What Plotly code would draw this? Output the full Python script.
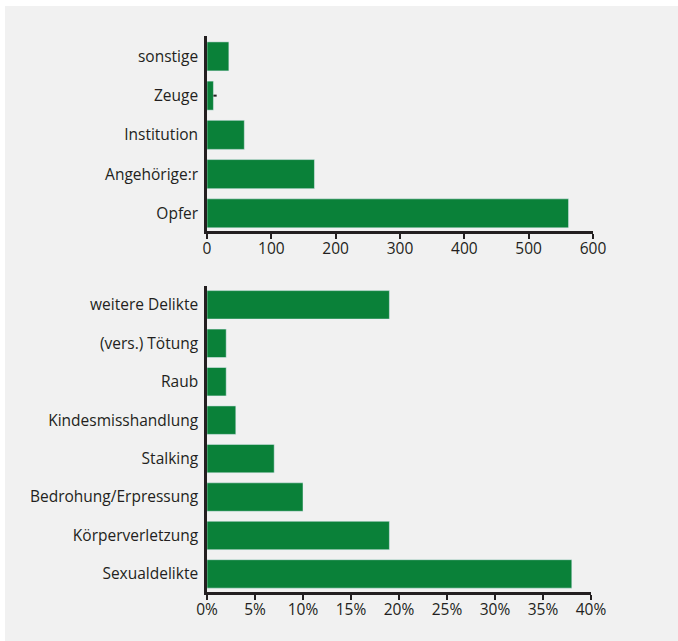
import plotly.graph_objects as go

# Data (top chart: who reported)
roles = ["Opfer", "Angehörige:r", "Institution", "Zeuge", "sonstige"]
role_counts = [562, 167, 58, 10, 34]
role_marks = [0, 0, 0, 5, 0]  # small dash next to "Zeuge"

# Data (bottom chart: offence shares in %)
offences = ["Sexualdelikte", "Körperverletzung", "Bedrohung/Erpressung", "Stalking",
            "Kindesmisshandlung", "Raub", "(vers.) Tötung", "weitere Delikte"]
offence_pct = [38, 19, 10, 7, 3, 2, 2, 19]

top_ticks = [0, 100, 200, 300, 400, 500, 600]
bottom_ticks = [0, 5, 10, 15, 20, 25, 30, 35, 40]
bottom_ticktext = [f"{v}%" for v in bottom_ticks]

W, H = 678, 641
GREEN = "#0a8139"
DARK = "#231f20"
FONT = "Open Sans"

fig = go.Figure()
fig.add_trace(go.Bar(
    y=roles, x=role_counts, orientation="h", marker_color=GREEN,
    error_x=dict(type="data", symmetric=False, array=role_marks,
                 arrayminus=[0] * len(roles), color=DARK, thickness=2, width=0),
    xaxis="x", yaxis="y", showlegend=False, hoverinfo="x+y"))
fig.add_trace(go.Bar(
    y=offences, x=offence_pct, orientation="h", marker_color=GREEN,
    xaxis="x2", yaxis="y2", showlegend=False, hoverinfo="x+y"))

def px_x(p):
    return p / W

def px_y(p):
    return 1 - p / H

axis_common = dict(showline=True, linecolor=DARK, linewidth=2.5, showgrid=False,
                   zeroline=False, automargin=False,
                   tickfont=dict(family=FONT, size=15.5, color=DARK))

fig.update_layout(
    width=W, height=H, autosize=False, margin=dict(l=0, r=0, t=0, b=0, pad=0),
    paper_bgcolor="white", plot_bgcolor="rgba(0,0,0,0)",
    bargap=0.26,
    font=dict(family=FONT, color=DARK),
    xaxis=dict(domain=[px_x(207), px_x(593)], range=[0, 600], tickvals=top_ticks,
               ticks="outside", ticklen=5, tickwidth=2, tickcolor=DARK,
               anchor="y", ticklabelstandoff=-3, **axis_common),
    yaxis=dict(domain=[px_y(231), px_y(36)], range=[-0.45, 4.52],
               categoryorder="array", categoryarray=roles, ticks="",
               anchor="x", ticklabelstandoff=3, **axis_common),
    xaxis2=dict(domain=[px_x(207), px_x(591)], range=[0, 40], tickvals=bottom_ticks,
                ticktext=bottom_ticktext, ticks="outside", ticklen=5, tickwidth=2,
                tickcolor=DARK, anchor="y2", ticklabelstandoff=-3, **axis_common),
    yaxis2=dict(domain=[px_y(592), px_y(286)], range=[-0.47, 7.49],
                categoryorder="array", categoryarray=offences, ticks="",
                anchor="x2", ticklabelstandoff=3, **axis_common),
    shapes=[dict(type="rect", xref="paper", yref="paper", x0=px_x(5), x1=1,
                 y0=0, y1=px_y(6), fillcolor="#f1f1f1", line_width=0, layer="below")],
)

fig.write_html(
    "out.html",
    config={"responsive": False},
    post_script="document.documentElement.style.overflow='hidden';"
                "document.body.style.overflow='hidden';document.body.style.margin='0';",
)
